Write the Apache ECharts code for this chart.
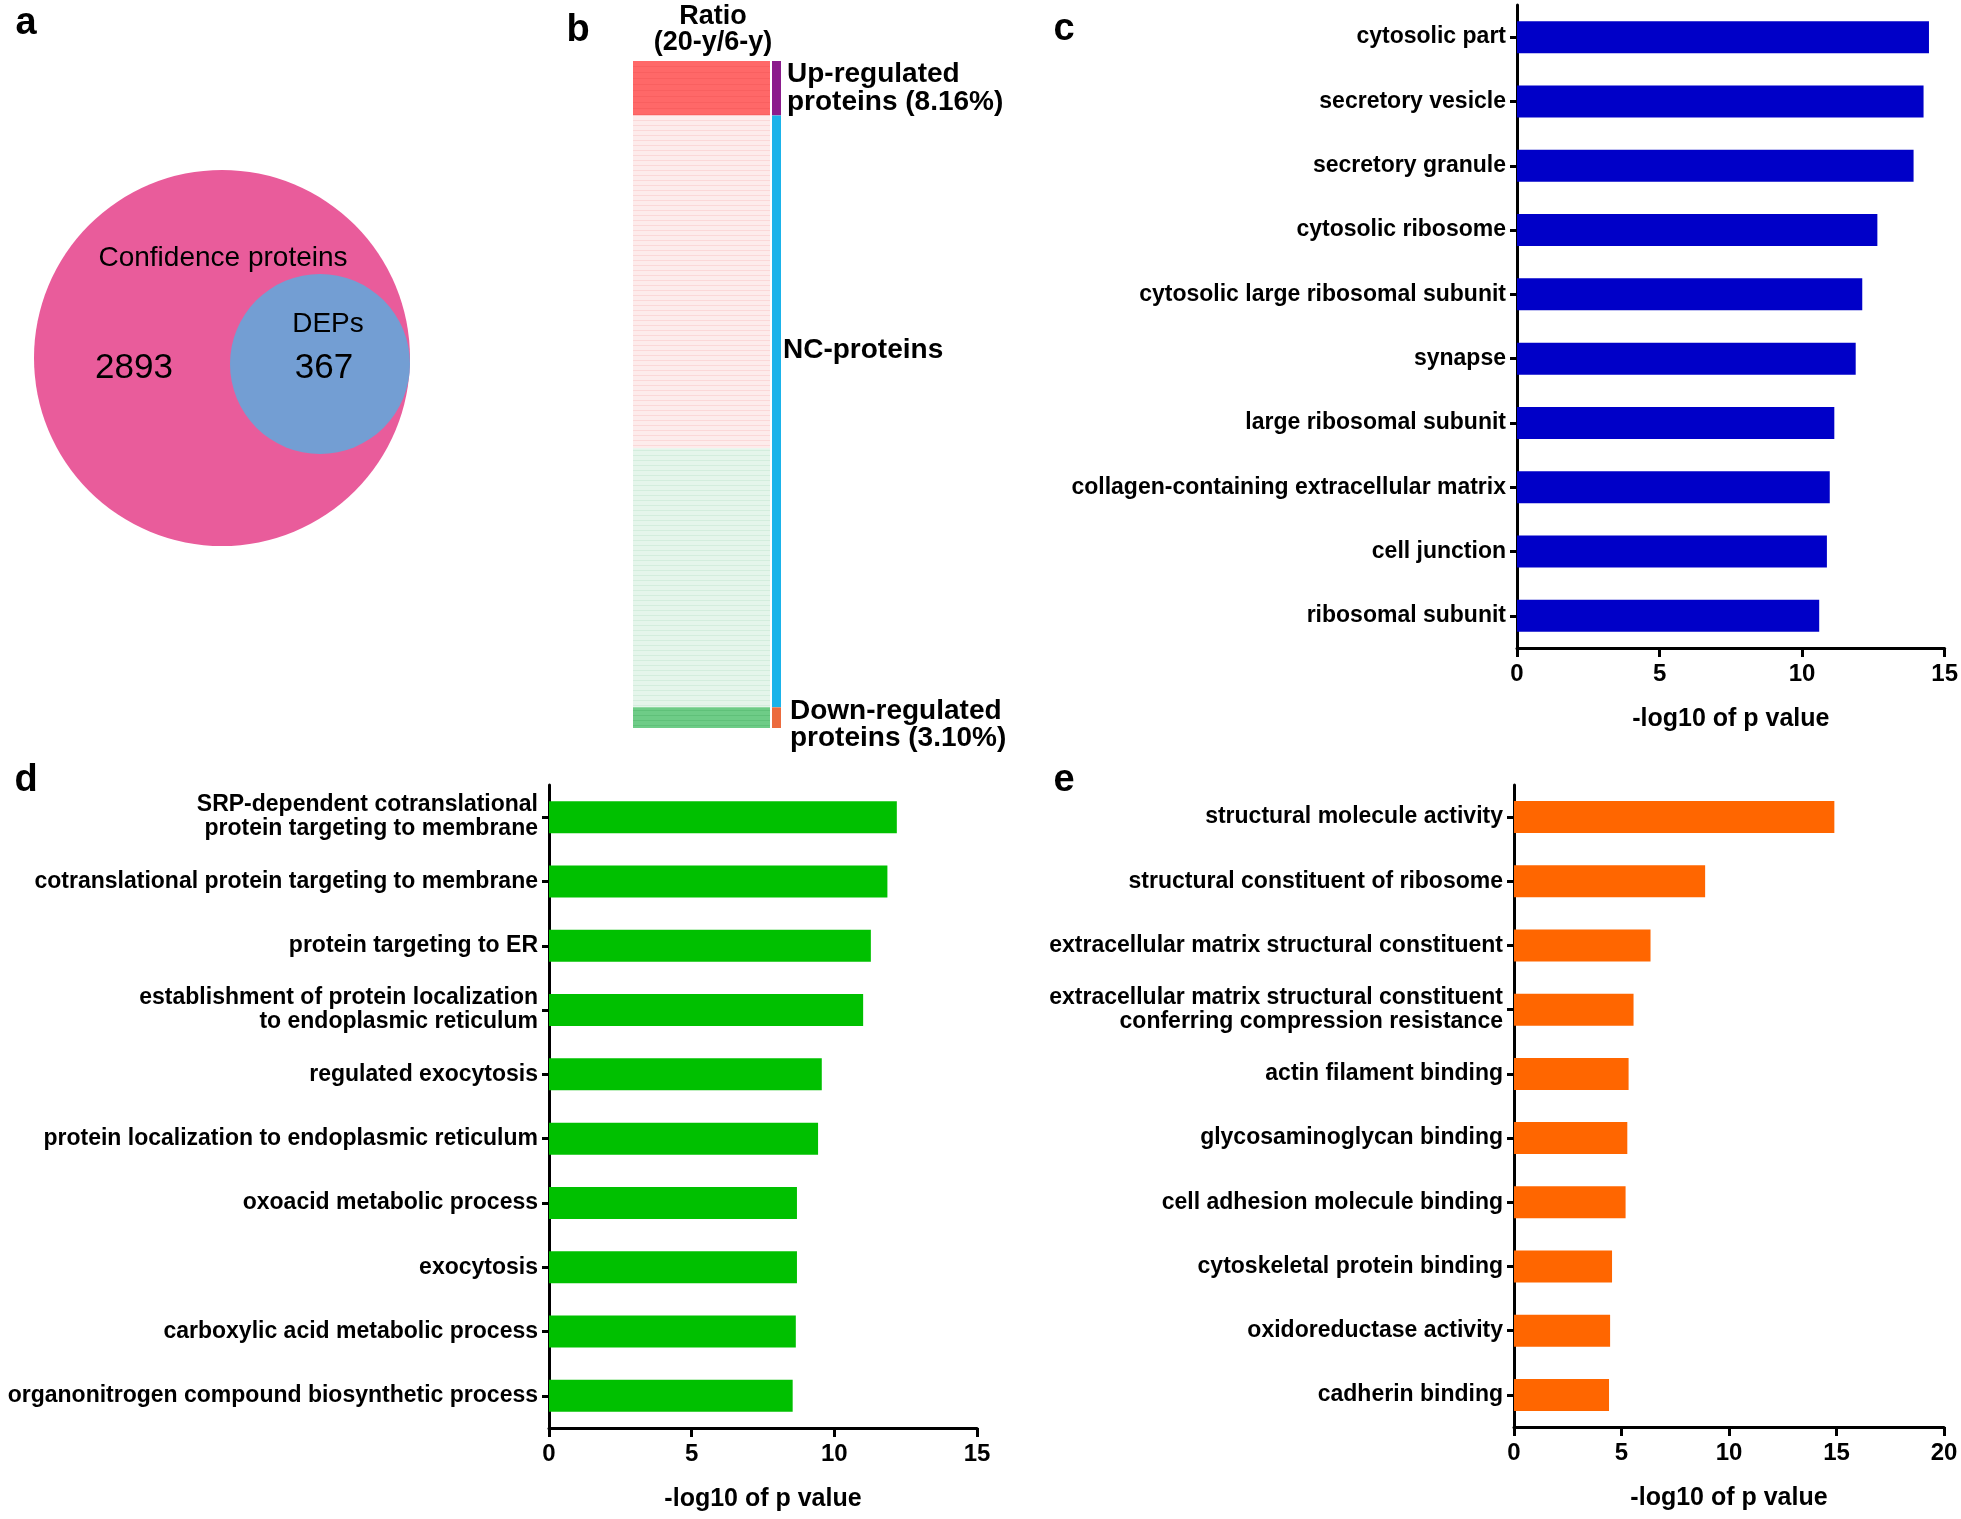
<!DOCTYPE html>
<html>
<head>
<meta charset="utf-8">
<script src="https://cdn.jsdelivr.net/npm/echarts@6/dist/echarts.min.js"></script>
<style>
html,body{margin:0;padding:0;background:#fff;}
#chart{width:1961px;height:1519px;}
</style>
</head>
<body>
<div id="chart"></div>
<script>
// ---- Panel a: Venn ----
const setNames = ['Confidence proteins', 'DEPs'];
const setCounts = [2893, 367];

// ---- Panel b: ratio heatmap blocks (protein counts) ----
const ratioGroups = ['Up-regulated', 'NC (ratio > 1)', 'NC (ratio < 1)', 'Down-regulated'];
const ratioCounts = [266, 1627, 1266, 101];
const sideGroups = ['Up-regulated', 'NC-proteins', 'Down-regulated'];
const sideCounts = [266, 2893, 101];
const upPercent = '8.16%';
const downPercent = '3.10%';

// ---- Panel c ----
const cCategories = ['cytosolic part', 'secretory vesicle', 'secretory granule', 'cytosolic ribosome',
  'cytosolic large ribosomal subunit', 'synapse', 'large ribosomal subunit',
  'collagen-containing extracellular matrix', 'cell junction', 'ribosomal subunit'];
const cValues = [14.45, 14.26, 13.91, 12.64, 12.11, 11.88, 11.13, 10.97, 10.87, 10.6];
const cTicks = [0, 5, 10, 15];

// ---- Panel d ----
const dCategories = ['SRP-dependent cotranslational\nprotein targeting to membrane',
  'cotranslational protein targeting to membrane', 'protein targeting to ER',
  'establishment of protein localization\nto endoplasmic reticulum', 'regulated exocytosis',
  'protein localization to endoplasmic reticulum', 'oxoacid metabolic process', 'exocytosis',
  'carboxylic acid metabolic process', 'organonitrogen compound biosynthetic process'];
const dValues = [12.19, 11.86, 11.28, 11.01, 9.56, 9.43, 8.69, 8.69, 8.65, 8.54];
const dTicks = [0, 5, 10, 15];

// ---- Panel e ----
const eCategories = ['structural molecule activity', 'structural constituent of ribosome',
  'extracellular matrix structural constituent',
  'extracellular matrix structural constituent\nconferring compression resistance',
  'actin filament binding', 'glycosaminoglycan binding', 'cell adhesion molecule binding',
  'cytoskeletal protein binding', 'oxidoreductase activity', 'cadherin binding'];
const eValues = [14.9, 8.89, 6.35, 5.56, 5.33, 5.27, 5.19, 4.56, 4.47, 4.42];
const eTicks = [0, 5, 10, 15, 20];

const FONT = 'Liberation Sans, Arial, Helvetica, sans-serif';
const chart = echarts.init(document.getElementById('chart'), null, {renderer: 'canvas'});

function barXAxis(gi, ticks) {
  return {
    type: 'value', gridIndex: gi, min: ticks[0], max: ticks[ticks.length - 1],
    interval: ticks[1] - ticks[0],
    name: '-log10 of p value', nameLocation: 'middle', nameGap: 59,
    nameTextStyle: {fontFamily: FONT, fontWeight: 'bold', fontSize: 25, color: '#000'},
    axisLine: {show: true, lineStyle: {color: '#000', width: 3}},
    axisTick: {show: true, length: 9, lineStyle: {color: '#000', width: 3}},
    axisLabel: {fontFamily: FONT, fontWeight: 'bold', fontSize: 24, color: '#000', margin: 14},
    splitLine: {show: false}
  };
}
function barYAxis(gi, cats) {
  return {
    type: 'category', gridIndex: gi, data: cats, inverse: true,
    axisLine: {show: true, lineStyle: {color: '#000', width: 3}},
    axisTick: {show: true, alignWithLabel: true, length: 7, lineStyle: {color: '#000', width: 3}},
    axisLabel: {fontFamily: FONT, fontWeight: 'bold', fontSize: 23, color: '#000', margin: 11, lineHeight: 24}
  };
}
function barSeries(gi, vals, color) {
  return {
    type: 'bar', xAxisIndex: gi, yAxisIndex: gi, data: vals, barWidth: 32,
    itemStyle: {color: color}, silent: true, animation: false
  };
}

const heatColors = ['#FF6868', '#FDECEC', '#E5F5EB', '#6ECC87'];
const heatDecal = [
  {symbol: 'rect', symbolSize: 1, dashArrayX: [1, 0], dashArrayY: [1, 5], color: 'rgba(230,70,70,0.25)'},
  {symbol: 'rect', symbolSize: 1, dashArrayX: [1, 0], dashArrayY: [1, 4], color: 'rgba(245,170,170,0.3)'},
  {symbol: 'rect', symbolSize: 1, dashArrayX: [1, 0], dashArrayY: [1, 4], color: 'rgba(170,220,190,0.3)'},
  {symbol: 'rect', symbolSize: 1, dashArrayX: [1, 0], dashArrayY: [1, 4], color: 'rgba(60,170,90,0.3)'}
];
const sideColors = ['#8B1C8C', '#1BB3EA', '#EC6B3E'];
const totalProteins = setCounts[0] + setCounts[1];

const series = [];
// Venn
series.push({
  type: 'scatter', xAxisIndex: 0, yAxisIndex: 0, silent: true, animation: false,
  data: [
    {name: setNames[0], value: [222, 358], symbolSize: 376, itemStyle: {color: '#E95C9B', opacity: 1}},
    {name: setNames[1], value: [320, 364], symbolSize: 180, itemStyle: {color: '#739ED3', opacity: 1}}
  ],
  label: {show: false}
});
// heatmap blocks
ratioGroups.forEach((g, i) => {
  series.push({
    type: 'bar', name: g, xAxisIndex: 1, yAxisIndex: 1, stack: 'heat', barWidth: '100%',
    data: [ratioCounts[i]], silent: true, animation: false,
    itemStyle: {color: heatColors[i], decal: heatDecal[i]}
  });
});
sideGroups.forEach((g, i) => {
  series.push({
    type: 'bar', name: g, xAxisIndex: 2, yAxisIndex: 2, stack: 'side', barWidth: '100%',
    data: [sideCounts[i]], silent: true, animation: false,
    itemStyle: {color: sideColors[i]}
  });
});
series.push(barSeries(3, cValues, '#0000C8'));
series.push(barSeries(4, dValues, '#00C000'));
series.push(barSeries(5, eValues, '#FF6600'));

const hiddenVal = (gi, min, max, inv) => ({type: 'value', gridIndex: gi, min: min, max: max, inverse: !!inv, show: false});
const hiddenCat = (gi) => ({type: 'category', gridIndex: gi, data: [''], show: false});

function txt(x, y, text, size, weight, align) {
  return {
    type: 'text', x: x, y: y, silent: true, z: 100,
    style: {text: text, fontFamily: FONT, fontSize: size, fontWeight: weight || 'normal',
      fill: '#000', align: align || 'center', verticalAlign: 'middle', lineHeight: size}
  };
}

const option = {
  backgroundColor: '#fff',
  animation: false,
  grid: [
    {left: 0, top: 0, width: 560, height: 560},
    {left: 633, top: 61, width: 137, height: 667},
    {left: 772, top: 61, width: 9, height: 667},
    {left: 1517, top: 5, width: 429, height: 643},
    {left: 549, top: 785, width: 428, height: 643},
    {left: 1514, top: 785, width: 430, height: 642}
  ],
  xAxis: [
    hiddenVal(0, 0, 560, false), hiddenCat(1), hiddenCat(2),
    barXAxis(3, cTicks), barXAxis(4, dTicks), barXAxis(5, eTicks)
  ],
  yAxis: [
    hiddenVal(0, 0, 560, true), hiddenVal(1, 0, totalProteins, true), hiddenVal(2, 0, totalProteins, true),
    barYAxis(3, cCategories), barYAxis(4, dCategories), barYAxis(5, eCategories)
  ],
  series: series,
  graphic: [
    // panel letters
    txt(26, 24, 'a', 38, 'bold'), txt(578, 31, 'b', 38, 'bold'), txt(1064, 30, 'c', 38, 'bold'),
    txt(26, 781, 'd', 38, 'bold'), txt(1064, 781, 'e', 38, 'bold'),
    // venn text
    txt(223, 258, setNames[0], 28), txt(134, 368, String(setCounts[0]), 35),
    txt(328, 324, setNames[1], 28), txt(324, 368, String(setCounts[1]), 35),
    // panel b text
    txt(713, 17, 'Ratio', 27, 'bold'), txt(713, 43, '(20-y/6-y)', 27, 'bold'),
    txt(787, 74, 'Up-regulated', 28, 'bold', 'left'), txt(787, 102, 'proteins (' + upPercent + ')', 28, 'bold', 'left'),
    txt(783, 350, 'NC-proteins', 28, 'bold', 'left'),
    txt(790, 711, 'Down-regulated', 28, 'bold', 'left'), txt(790, 738, 'proteins (' + downPercent + ')', 28, 'bold', 'left')
  ]
};
chart.setOption(option);
</script>
</body>
</html>
